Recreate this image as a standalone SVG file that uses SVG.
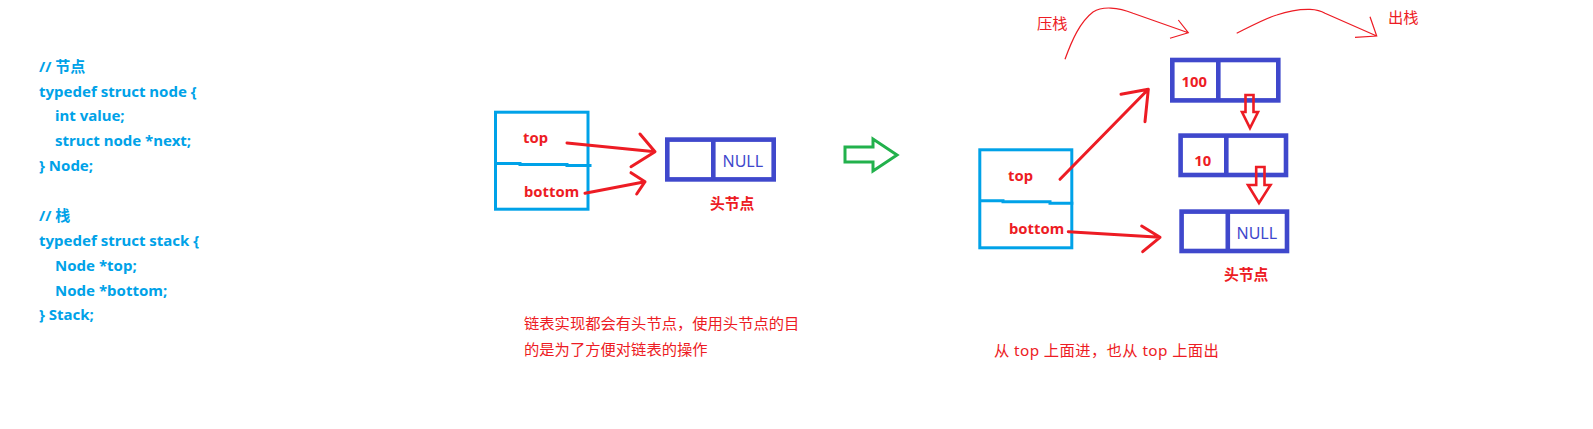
<svg xmlns="http://www.w3.org/2000/svg" width="1593" height="429" viewBox="0 0 1593 429">
<defs>
<style>
.code{font-family:"Noto Sans","Noto Sans CJK SC",sans-serif;font-weight:700;font-size:15px;fill:#00A2E8}
.lbl{font-family:"Noto Sans","Noto Sans CJK SC",sans-serif;font-weight:700;font-size:14.8px;fill:#ED1C24}
.null{font-family:"Noto Sans",sans-serif;font-size:16px;fill:#3F48CC}
.note{font-family:"Noto Sans","Noto Sans CJK SC",sans-serif;font-size:15.3px;fill:#ED1C24}
.stk{fill:none;stroke:#00A2E8;stroke-width:3}
.nd{fill:none;stroke:#3F48CC;stroke-width:4.6}
.ra{fill:none;stroke:#ED1C24;stroke-width:3;stroke-linecap:round;stroke-linejoin:round}
.thin{fill:none;stroke:#ED1C24;stroke-width:1.2}
.hollow{fill:none;stroke:#ED1C24;stroke-width:2.6;stroke-linejoin:miter}
</style>
</defs>
<rect width="1593" height="429" fill="#FFFFFF"/>

<g id="code">
<text class="code" x="39" y="72">// 节点</text>
<text class="code" x="39" y="96.7">typedef struct node {</text>
<text class="code" x="55" y="121.2">int value;</text>
<text class="code" x="55" y="145.9">struct node *next;</text>
<text class="code" x="39" y="170.5">} Node;</text>
<text class="code" x="39" y="220.5">// 栈</text>
<text class="code" x="39" y="245.5">typedef struct stack {</text>
<text class="code" x="55" y="270.5">Node *top;</text>
<text class="code" x="55" y="295.5">Node *bottom;</text>
<text class="code" x="39" y="320">} Stack;</text>
</g>

<g id="stack1">
<rect class="stk" x="495.5" y="112.2" width="92.5" height="97"/>
<polyline class="stk" points="495.5,163.5 520,163.5 520,164.5 567,164.5 567,165.5 591.5,165.5"/>
<text class="lbl" x="523" y="143">top</text>
<text class="lbl" x="524" y="197">bottom</text>
</g>

<g id="headnode1">
<rect class="nd" x="667.3" y="139.6" width="106.4" height="39.8"/>
<line class="nd" x1="713.3" y1="139.6" x2="713.3" y2="179.4"/>
<text class="null" x="722.5" y="167">NULL</text>
<text class="lbl" x="710" y="209">头节点</text>
</g>

<g id="green-arrow">
<polygon points="845,147 873,147 873,139 897,155 873,171 873,162 845,162" fill="none" stroke="#22B14C" stroke-width="3"/>
</g>

<g id="stack2">
<rect class="stk" x="979.8" y="149.8" width="92" height="98"/>
<polyline class="stk" points="979.8,200.7 1003,200.7 1003,201.7 1050,201.7 1050,203.2 1073.3,203.2"/>
<text class="lbl" x="1008" y="181">top</text>
<text class="lbl" x="1009" y="234">bottom</text>
</g>

<g id="node100">
<rect class="nd" x="1172.3" y="60" width="106" height="40.4"/>
<line class="nd" x1="1218.3" y1="60" x2="1218.3" y2="100.4"/>
<text class="lbl" x="1181.5" y="87">100</text>
</g>

<g id="node10">
<rect class="nd" x="1180.6" y="135.6" width="105.4" height="39.4"/>
<line class="nd" x1="1226.3" y1="135.6" x2="1226.3" y2="175"/>
<text class="lbl" x="1194.3" y="166">10</text>
</g>

<g id="headnode2">
<rect class="nd" x="1181.6" y="211.6" width="105.4" height="39.4"/>
<line class="nd" x1="1227.8" y1="211.6" x2="1227.8" y2="251"/>
<text class="null" x="1236.5" y="239">NULL</text>
<text class="lbl" x="1224" y="280">头节点</text>
</g>

<g id="connectors">
<path class="ra" d="M567,143 L655,151.7 M640,134 L655,151.7 L631,166.7"/>
<path class="ra" d="M585,193.3 L645,181.7 M631,172.7 L645,181.7 L636.7,194"/>
<path class="ra" d="M1060,179.3 L1148.3,89.3 M1121,94.3 L1148.3,89.3 L1145,121.7"/>
<path class="ra" d="M1068.3,231.7 L1160,237.3 M1141.7,226 L1160,237.3 L1142.7,251.7"/>
<path class="hollow" d="M1245.5,95 L1253.5,95 L1253.5,112 L1258,112 L1250,128 L1242,112 L1245.5,112 Z"/>
<path class="hollow" d="M1256.2,167 L1264.5,167 L1264.5,185 L1270.5,185 L1259,203 L1248,185 L1256.2,185 Z"/>
<path class="thin" d="M1065,59.3 C1072,40 1080,22 1093,12 C1102,6 1118,7 1133,13.3 L1188.3,32.7 M1178.3,20 L1188.3,32.7 L1170,38.3"/>
<path class="thin" d="M1236.7,33.3 C1255,24 1266,18 1276.7,15 C1288,11 1298,9 1310,9.3 C1316,9.5 1320,10 1325,13.3 L1376.7,36 M1370,16.7 L1376.7,36 L1355,37.3"/>
</g>

<g id="texts">
<text class="note" x="1037" y="29">压栈</text>
<text class="note" x="1388" y="23">出栈</text>
<text class="note" x="524" y="329">链表实现都会有头节点，使用头节点的目</text>
<text class="note" x="524" y="355">的是为了方便对链表的操作</text>
<text class="note" x="994" y="355.5" style="letter-spacing:0.4px">从 top 上面进，也从 top 上面出</text>
</g>
</svg>
